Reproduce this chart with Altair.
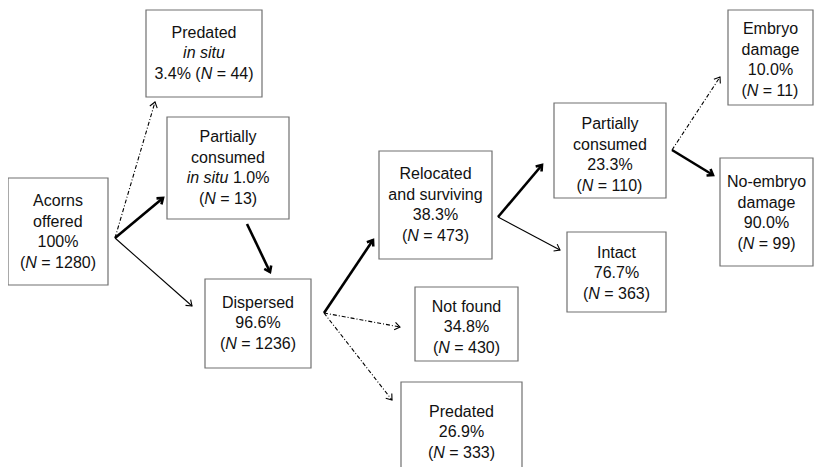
import math
import altair as alt
import pandas as pd

# ---------------- data ----------------
node_names = ["pred_insitu", "pc_insitu", "offered", "dispersed", "relocated",
              "notfound", "predated", "pc", "intact", "embryo", "noembryo"]
node_labels = [
    ["Predated", "*in situ*"],
    ["Partially", "consumed"],
    ["Acorns", "offered"],
    ["Dispersed"],
    ["Relocated", "and surviving"],
    ["Not found"],
    ["Predated"],
    ["Partially", "consumed"],
    ["Intact"],
    ["Embryo", "damage"],
    ["No-embryo", "damage"],
]
node_pct = ["3.4%", "1.0%", "100%", "96.6%", "38.3%", "34.8%", "26.9%",
            "23.3%", "76.7%", "10.0%", "90.0%"]
node_n = [44, 13, 1280, 1236, 473, 430, 333, 110, 363, 11, 99]

# ---------------- layout (pixel positions in the picture) ----------------
box_x1 = [146, 167, 8, 205, 379, 415, 401, 554, 567, 728, 720]
box_x2 = [262, 289, 108, 311, 492, 518, 522, 666, 666, 813, 813]
box_y1 = [10, 117, 178, 279, 151, 287, 382, 103, 232, 10, 158]
box_y2 = [97, 219, 285, 368, 259, 361, 480, 198, 312, 105, 266]
text_cy = [53, 168, 232, 323, 205, 327, 432, 155, 273, 60, 213]

# arrows: start, end, style
arr_x1 = [115, 115, 115, 247, 324, 324, 324, 498, 498, 672, 672]
arr_y1 = [238, 238, 238, 224, 313, 313, 313, 217, 217, 150, 150]
arr_x2 = [155, 163, 192, 270, 373, 400, 392, 542, 560, 720, 713]
arr_y2 = [102, 198, 306, 272, 240, 327, 400, 165, 250, 77, 175]
arr_style = ["dash", "thick", "thin", "thick", "thick", "dash", "dash",
             "thick", "thin", "dash", "thick"]

FS = 16
LH = 20.5
FONT = "Liberation Sans"
W = {' ': 278, '(': 333, ')': 333, '%': 889, '-': 333, '.': 278, '=': 584,
     'A': 667, 'D': 722, 'E': 667, 'I': 278, 'N': 722, 'P': 667, 'R': 722,
     'a': 556, 'b': 556, 'c': 500, 'd': 556, 'e': 556, 'f': 278, 'g': 556,
     'h': 556, 'i': 222, 'l': 222, 'm': 833, 'n': 556, 'o': 556, 'r': 333,
     's': 500, 't': 278, 'u': 556, 'v': 500, 'y': 500, 'w': 722}


def tw(s):
    return sum(W.get(c, 556) for c in s) * FS / 1000.0


def parse(line):
    # '*' toggles italics
    parts = line.split("*")
    return [(p, i % 2 == 1) for i, p in enumerate(parts) if p]


rects = pd.DataFrame({"x": box_x1, "x2": box_x2, "y": box_y1, "y2": box_y2})

seg_rows = []
for k in range(len(node_names)):
    lines = list(node_labels[k])
    if node_names[k] == "pred_insitu":
        lines.append(f"{node_pct[k]} (*N* = {node_n[k]})")
    elif node_names[k] == "pc_insitu":
        lines.append(f"*in situ* {node_pct[k]}")
        lines.append(f"(*N* = {node_n[k]})")
    else:
        lines.append(node_pct[k])
        lines.append(f"(*N* = {node_n[k]})")
    cx = (box_x1[k] + box_x2[k]) / 2
    n = len(lines)
    for j, line in enumerate(lines):
        y = text_cy[k] + (j - (n - 1) / 2) * LH
        segs = parse(line)
        total = sum(tw(s) for s, _ in segs)
        x = cx - total / 2
        for s, it in segs:
            body = s.strip()
            lead = len(s) - len(s.lstrip())
            if body:
                seg_rows.append({"x": x + tw(s[:lead]), "y": y, "t": body, "it": it})
            x += tw(s)
segs_df = pd.DataFrame(seg_rows)

arrows = pd.DataFrame({"x": arr_x1, "y": arr_y1, "x2": arr_x2, "y2": arr_y2,
                       "style": arr_style})
arrows["angle"] = [
    (math.degrees(math.atan2(x2 - x1, -(y2 - y1))) + 360) % 360
    for x1, y1, x2, y2 in zip(arr_x1, arr_y1, arr_x2, arr_y2)
]

XS = alt.Scale(domain=[8, 815], nice=False, zero=False)
YS = alt.Scale(domain=[8, 467], nice=False, zero=False, reverse=True)
X = alt.X("x:Q", scale=XS, axis=None)
Y = alt.Y("y:Q", scale=YS, axis=None)
X2 = alt.X("x2:Q", scale=XS, axis=None)
Y2 = alt.Y("y2:Q", scale=YS, axis=None)

boxes = alt.Chart(rects).mark_rect(fill="white", stroke="#707070", strokeWidth=1.2).encode(
    x=X, x2="x2:Q", y=Y, y2="y2:Q")

layers = [boxes]
styles = {"thin": dict(strokeWidth=1.1), "thick": dict(strokeWidth=2.6),
          "dash": dict(strokeWidth=1.1, strokeDash=[4, 2, 1, 2])}
HEAD = "M-0.55,0.75L0,0L0.55,0.75"
for st, props in styles.items():
    d = arrows[arrows["style"] == st]
    layers.append(alt.Chart(d).mark_rule(color="black", **props).encode(
        x=X, y=Y, x2="x2:Q", y2="y2:Q"))
    layers.append(alt.Chart(d).mark_point(
        shape=HEAD, filled=False, color="black", size=196,
        strokeWidth=props["strokeWidth"], opacity=1).encode(
        x=X2, y=Y2, angle=alt.Angle("angle:Q", scale=None)))

for it in (False, True):
    d = segs_df[segs_df["it"] == it]
    layers.append(alt.Chart(d).mark_text(
        align="left", baseline="middle", font=FONT, fontSize=FS,
        fontStyle="italic" if it else "normal", color="#111111").encode(
        x=X, y=Y, text="t:N"))

chart = alt.layer(*layers).properties(
    width=807, height=459, padding=0,
    autosize=alt.AutoSizeParams(type="none")
).configure_view(stroke=None)

chart.save("out.html", embed_options={"renderer": "svg", "actions": False})
